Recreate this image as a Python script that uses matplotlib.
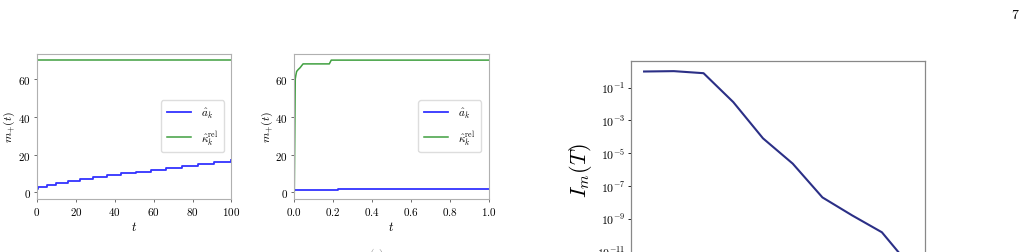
import numpy as np
import matplotlib
matplotlib.use("Agg")
from matplotlib import pyplot as plt

plt.rcParams['font.family'] = 'serif'
plt.rcParams['font.serif'] = ['cmr10', 'DejaVu Serif']
plt.rcParams['mathtext.fontset'] = 'cm'
plt.rcParams['axes.formatter.use_mathtext'] = True

# panel 1: long horizon
t1_steps = [0, 0.7, 5, 10, 16, 22, 29, 36, 43, 51, 58.6, 66.5, 74.6, 82.9, 91, 99.5, 100]
a1_vals = [2, 3, 4, 5, 6, 7, 8, 9, 10, 11, 12, 13, 14, 15, 16, 17, 17]
t1_kappa = [0, 100]
k1_vals = [70, 70]

# panel 2: short horizon
t2_a = [0, 0.218, 0.225, 1.0]
a2_vals = [1, 1, 2, 2]
t2_kappa = [0, 0.005, 0.008, 0.012, 0.02, 0.03, 0.045, 0.18, 0.19, 1.0]
k2_vals = [0, 60, 62, 64, 65, 66, 68, 68, 70, 70]

# panel 3: I_m(T)
m_vals = np.arange(10)
I_vals = [0.95, 1.0, 0.75, 1.3e-2, 8e-5, 2.3e-6, 2e-8, 1.6e-9, 1.5e-10, 1e-12]

W, H = 1028, 253
fig = plt.figure(figsize=(W / 100, H / 100), dpi=100)

spine_col = '#b0b0b0'


def small_panel(left_px, t_a, a, t_k, k, xlim, xticks):
    ax = fig.add_axes([left_px / W, 53 / H, 194.5 / W, 145.5 / H])
    ax.step(t_a, a, where='post', color='blue', alpha=0.8, lw=1.3, label=r'$\hat{a}_k$')
    ax.plot(t_k, k, color='green', alpha=0.75, lw=1.1, label=r'$\hat{\kappa}_k^{\rm rel}$')
    ax.set_xlim(*xlim)
    ax.set_ylim(-3.5, 73.5)
    ax.set_xticks(xticks)
    ax.set_yticks([0, 20, 40, 60])
    ax.tick_params(labelsize=8, length=2.5, width=0.6, color='#555555', pad=2)
    for s in ax.spines.values():
        s.set_color(spine_col)
        s.set_linewidth(0.8)
    ax.set_xlabel(r'$t$', fontsize=9, labelpad=2)
    ax.set_ylabel(r'$m_{+}(t)$', fontsize=8.5, labelpad=0.5)
    ax.legend(loc='center right', fontsize=8, framealpha=1, edgecolor='#dddddd',
              handlelength=2.2, borderpad=0.5, labelspacing=0.7, handletextpad=0.9,
              bbox_to_anchor=(0.99, 0.5))
    return ax


small_panel(37, t1_steps, a1_vals, t1_kappa, k1_vals, (0, 100), [0, 20, 40, 60, 80, 100])
small_panel(294.3, t2_a, a2_vals, t2_kappa, k2_vals, (0, 1), [0, 0.2, 0.4, 0.6, 0.8, 1.0])

ax3 = fig.add_axes([630.7 / W, (H - 278.8) / H, 294.3 / W, 216.5 / H])
ax3.semilogy(m_vals, I_vals, color='#2b2f86', lw=1.5)
ax3.set_yticks([1e-1, 1e-3, 1e-5, 1e-7, 1e-9, 1e-11])
ax3.yaxis.set_minor_locator(matplotlib.ticker.NullLocator())
ax3.set_xticks([])
ax3.tick_params(labelsize=8.5, length=2, width=0.6, pad=2)
for s in ax3.spines.values():
    s.set_color('#888888')
    s.set_linewidth(0.9)
ax3.set_ylabel(r'$I_m(T)$', fontsize=16, labelpad=2)

fig.text(1015 / W, 1 - 16 / H, '7', fontsize=10, ha='center', va='center')
fig.text(377 / W, 1 - 249 / H, '(a)', fontsize=8, ha='center', va='top', color='#888888')

fig.savefig('out.png', dpi=100)
